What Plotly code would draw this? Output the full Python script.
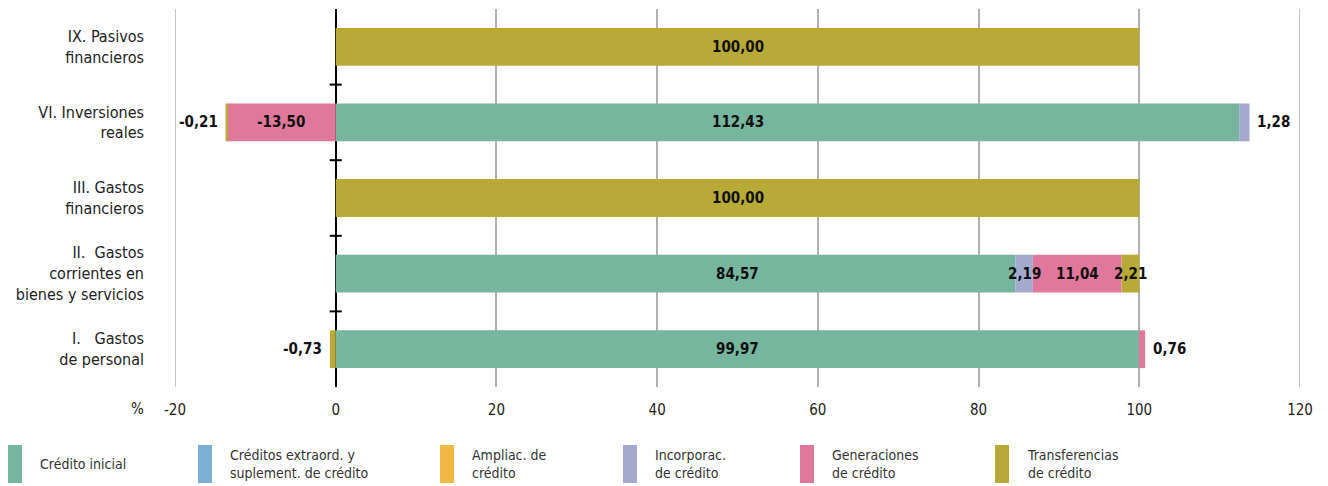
import plotly.graph_objects as go

FONT = "DejaVu Sans Condensed, Liberation Sans Narrow, Roboto, sans-serif"

categories = [
    "IX. Pasivos<br>financieros",
    "VI. Inversiones<br>reales",
    "III. Gastos<br>financieros",
    "II.\u00a0\u00a0Gastos<br>corrientes en<br>bienes y servicios",
    "I.\u00a0\u00a0\u00a0Gastos<br>de personal",
]
series_names = [
    "Crédito inicial",
    "Créditos extraord. y<br>suplement. de crédito",
    "Ampliac. de<br>crédito",
    "Incorporac.<br>de crédito",
    "Generaciones<br>de crédito",
    "Transferencias<br>de crédito",
]
colors = ["#76b59e", "#7bafd6", "#f0b942", "#a4a9d0", "#e0789c", "#b8aa36"]

credito_inicial = [0, 112.43, 0, 84.57, 99.97]
extraord = [0, 0, 0, 0, 0]
ampliac = [0, 0, 0, 0, 0]
incorporac = [0, 1.28, 0, 2.19, 0]
generaciones = [0, -13.50, 0, 11.04, 0.76]
transferencias = [100.00, -0.21, 100.00, 2.21, -0.73]

x_ticks = [-20, 0, 20, 40, 60, 80, 100, 120]

values = [credito_inicial, extraord, ampliac, incorporac, generaciones, transferencias]

fig = go.Figure()
for name, vals, col in zip(series_names, values, colors):
    fig.add_trace(go.Bar(
        y=categories, x=vals, name=name, orientation="h",
        marker=dict(color=col, line=dict(width=0)), showlegend=False,
        hoverinfo="x+name",
    ))


def fmt(v):
    return f"{v:.2f}".replace(".", ",")


W, H = 1328, 486
ml, mr, mt, mb = 175, 28, 9, 99
pw, ph = W - ml - mr, H - mt - mb


def px(xp):
    return (xp - ml) / pw


def py(yp):
    return (H - mb - yp) / ph


annotations = []
for ci, cat in enumerate(categories):
    pos, neg = 0.0, 0.0
    segs = []
    for si, vals in enumerate(values):
        v = vals[ci]
        if v == 0:
            continue
        if v > 0:
            segs.append((v, pos, pos + v))
            pos += v
        else:
            segs.append((v, neg + v, neg))
            neg += v
    lo, hi = neg, pos
    biggest = max(segs, key=lambda s: abs(s[0]))
    for s in segs:
        v, a, b = s
        lab = dict(text="<b>" + fmt(v) + "</b>", y=cat, yref="y", xref="x",
                   showarrow=False, font=dict(family=FONT, size=15, color="#111"))
        if s is biggest:
            lab.update(x=(lo + hi) / 2, xanchor="center")
        elif abs(v) >= 2:
            lab.update(x=(a + b) / 2, xanchor="center")
        elif v > 0:
            lab.update(x=b, xanchor="left", xshift=6)
        else:
            lab.update(x=a, xanchor="right", xshift=-6)
        annotations.append(lab)

annotations.append(dict(text="%", x=px(137), y=py(409), xref="paper", yref="paper",
                        xanchor="center", yanchor="middle", showarrow=False,
                        font=dict(family=FONT, size=15, color="#222")))

shapes = []
# tick marks on zero line between categories
for k in range(len(categories) - 1):
    shapes.append(dict(type="line", xref="x", yref="y", x0=-0.75, x1=0.75,
                       y0=k + 0.5, y1=k + 0.5, line=dict(color="black", width=2)))
# edge gridlines
for xv in (x_ticks[0], x_ticks[-1]):
    shapes.append(dict(type="line", xref="x", yref="paper", x0=xv, x1=xv,
                       y0=0, y1=1, line=dict(color="#b0b0b0", width=1.5),
                       layer="below"))

leg_x = [8, 198, 440, 623, 800, 995]
for name, col, lx in zip(series_names, colors, leg_x):
    shapes.append(dict(type="rect", xref="paper", yref="paper",
                       x0=px(lx), x1=px(lx + 14), y0=py(483), y1=py(445),
                       fillcolor=col, line=dict(width=0)))
    annotations.append(dict(text=name, x=px(lx + 30), y=py(464), xref="paper",
                            yref="paper", xanchor="left", yanchor="middle",
                            align="left", showarrow=False,
                            font=dict(family=FONT, size=14, color="#333")))

fig.update_layout(
    barmode="relative",
    bargap=0.5,
    width=W, height=H,
    margin=dict(l=ml, r=mr, t=mt, b=mb, autoexpand=False),
    plot_bgcolor="white", paper_bgcolor="white",
    font=dict(family=FONT, size=15, color="#222"),
    xaxis=dict(range=[x_ticks[0], x_ticks[-1]], tickvals=x_ticks,
               ticktext=[str(v) for v in x_ticks], showgrid=True,
               gridcolor="#b0b0b0", gridwidth=1.5, zeroline=True,
               zerolinecolor="black", zerolinewidth=2, showline=False,
               ticks="", ticklabelstandoff=12, automargin=False),
    yaxis=dict(autorange="reversed", showgrid=False, zeroline=False,
               showline=False, ticks="", ticklabelstandoff=30, automargin=False,
               tickfont=dict(family=FONT, size=16, color="#222")),
    annotations=annotations,
    shapes=shapes,
)

fig.write_html("out.html", config={"displayModeBar": False},
               post_script="document.body.style.margin='0';")
